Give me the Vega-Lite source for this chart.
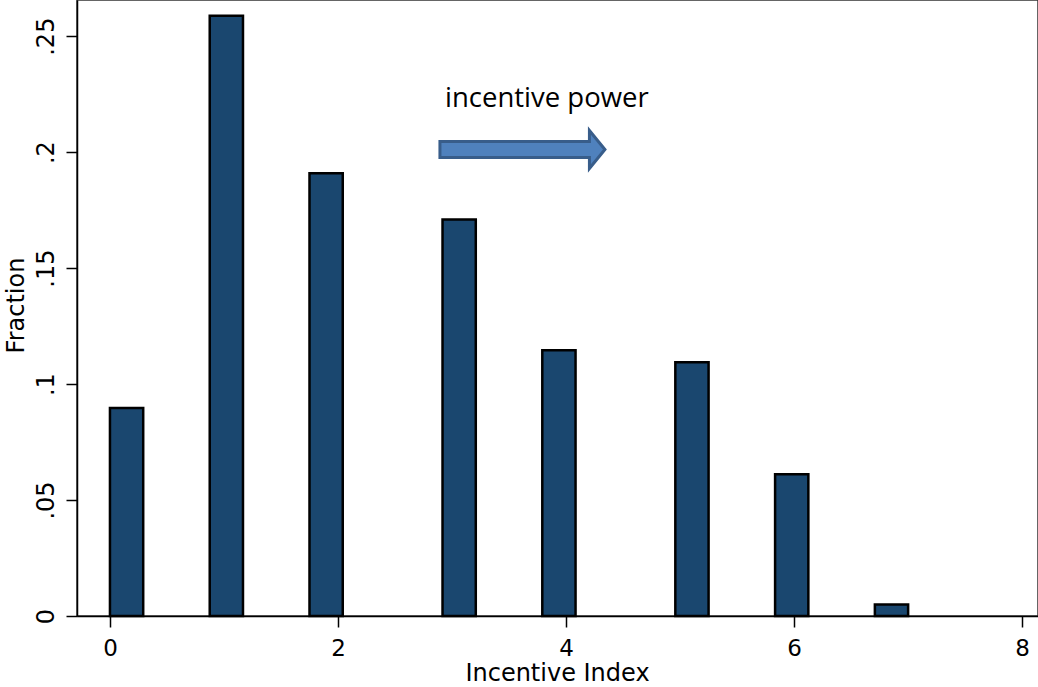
{
  "$schema": "https://vega.github.io/schema/vega-lite/v6.json",
  "width": 961,
  "height": 616,
  "autosize": {"type": "none"},
  "padding": {"left": 77, "top": 0, "right": 0, "bottom": 71},
  "background": "white",
  "config": {
    "view": {"stroke": "#333333", "strokeWidth": 1.5},
    "axis": {
      "grid": false,
      "domainColor": "#000000",
      "domainWidth": 1.5,
      "tickColor": "#000000",
      "tickWidth": 1.5,
      "tickSize": 11,
      "labelColor": "#000000",
      "titleColor": "#000000",
      "labelFont": "DejaVu Sans",
      "titleFont": "DejaVu Sans",
      "titleFontWeight": "normal",
      "labelFlush": false,
      "labelOverlap": false
    }
  },
  "datasets": {
    "bars": [
      {"start": 0.0, "end": 0.29167, "fraction": 0.0897},
      {"start": 0.875, "end": 1.16667, "fraction": 0.2588},
      {"start": 1.75, "end": 2.04167, "fraction": 0.1909},
      {"start": 2.91667, "end": 3.20833, "fraction": 0.1710},
      {"start": 3.79167, "end": 4.08333, "fraction": 0.1146},
      {"start": 4.95833, "end": 5.25, "fraction": 0.1094},
      {"start": 5.83333, "end": 6.125, "fraction": 0.0611},
      {"start": 6.70833, "end": 7.0, "fraction": 0.0050}
    ],
    "arrow": [
      {"i": 1, "ax": 2.894, "ay": 0.19769},
      {"i": 2, "ax": 4.205, "ay": 0.19769},
      {"i": 3, "ax": 4.205, "ay": 0.19295},
      {"i": 4, "ax": 4.341, "ay": 0.20114},
      {"i": 5, "ax": 4.205, "ay": 0.20933},
      {"i": 6, "ax": 4.205, "ay": 0.20459},
      {"i": 7, "ax": 2.894, "ay": 0.20459}
    ],
    "note": [
      {"tx": 2.938, "ty": 0.21934, "label": "incentive power"}
    ]
  },
  "layer": [
    {
      "data": {"name": "bars"},
      "mark": {"type": "rect", "fill": "#1a476f", "stroke": "#000000", "strokeWidth": 2.5},
      "encoding": {
        "x": {
          "field": "start", "type": "quantitative",
          "scale": {"domain": [-0.289, 8.139], "nice": false, "zero": false},
          "axis": {
            "title": "Incentive Index",
            "values": [0, 2, 4, 6, 8],
            "format": "d",
            "labelFontSize": 23,
            "labelBaseline": "alphabetic",
            "labelPadding": 28,
            "titleFontSize": 24,
            "titleX": 480,
            "titleY": 64,
            "titleBaseline": "alphabetic",
            "titleAlign": "center"
          }
        },
        "x2": {"field": "end"},
        "y": {
          "field": "fraction", "type": "quantitative",
          "scale": {"domain": [0, 0.2656], "nice": false},
          "axis": {
            "title": "Fraction",
            "values": [0, 0.05, 0.1, 0.15, 0.2, 0.25],
            "labelExpr": "datum.value == 0 ? '0' : replace(format(datum.value, '~g'), '0.', '.')",
            "labelFontSize": 24,
            "labelAngle": 270,
            "labelAlign": "center",
            "labelBaseline": "alphabetic",
            "labelPadding": 13,
            "titleFontSize": 24,
            "titleAngle": 270,
            "titleX": -54,
            "titleY": 305,
            "titleAlign": "center",
            "titleBaseline": "alphabetic"
          }
        },
        "y2": {"datum": 0}
      }
    },
    {
      "data": {"name": "arrow"},
      "mark": {"type": "line", "interpolate": "linear-closed", "fill": "#4F81BD", "stroke": "#385D8A", "strokeWidth": 3, "strokeJoin": "miter"},
      "encoding": {
        "x": {"field": "ax", "type": "quantitative", "title": "Incentive Index"},
        "y": {"field": "ay", "type": "quantitative", "title": "Fraction"},
        "order": {"field": "i", "type": "quantitative"}
      }
    },
    {
      "data": {"name": "note"},
      "mark": {"type": "text", "font": "Open Sans", "fontSize": 27.5, "align": "left", "baseline": "alphabetic", "color": "#000000"},
      "encoding": {
        "x": {"field": "tx", "type": "quantitative", "title": "Incentive Index"},
        "y": {"field": "ty", "type": "quantitative", "title": "Fraction"},
        "text": {"field": "label"}
      }
    }
  ]
}
